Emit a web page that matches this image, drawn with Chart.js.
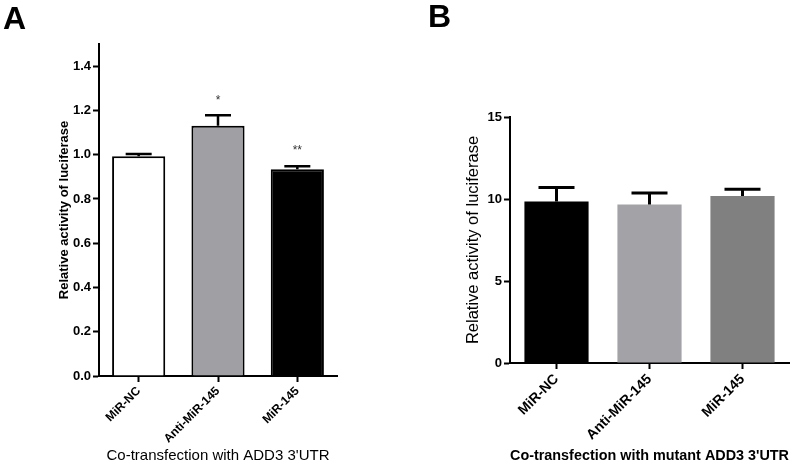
<!DOCTYPE html>
<html>
<head>
<meta charset="utf-8">
<script src="https://cdn.jsdelivr.net/npm/chart.js@4"></script>
<style>
  body { margin: 0; background: #fff; }
  #wrap { position: relative; width: 800px; height: 465px; }
  .panel { position: absolute; top: 0; width: 400px; height: 465px; }
  .letter { position: absolute; font: bold 32px Arial, "Liberation Sans", sans-serif; color: #000; }
</style>
</head>
<body>
<div id="wrap">
  <div class="panel" style="left:0"><canvas id="chartA"></canvas></div>
  <div class="panel" style="left:400px"><canvas id="chartB"></canvas></div>
  <div class="letter" style="left:3px;top:0px">A</div>
  <div class="letter" style="left:428px;top:-2px">B</div>
</div>
<script>
const categories = ['MiR-NC', 'Anti-MiR-145', 'MiR-145'];

// panel A
const valuesA = [0.993, 1.131, 0.934];
const errorsA = [0.010, 0.047, 0.014];
const starsA = ['', '*', '**'];
const colorsA = ['#ffffff', '#a0a0a4', '#000000'];
const yTicksA = [0, 0.2, 0.4, 0.6, 0.8, 1.0, 1.2, 1.4];
const yTickLabelsA = ['0.0', '0.2', '0.4', '0.6', '0.8', '1.0', '1.2', '1.4'];

// panel B
const valuesB = [9.84, 9.66, 10.19];
const errorsB = [0.86, 0.71, 0.41];
const colorsB = ['#000000', '#a3a3a7', '#808080'];
const yTicksB = [0, 5, 10, 15];
const yTickLabelsB = ['0', '5', '10', '15'];

const FONT = 'Arial, "Liberation Sans", sans-serif';

// error bars (upper only) + significance stars
const errorBars = {
    id: 'errorBars',
    afterDatasetsDraw(chart, args, opts) {
        const ctx = chart.ctx;
        const y = chart.scales.y;
        const meta = chart.getDatasetMeta(0);
        ctx.save();
        ctx.strokeStyle = '#000';
        ctx.lineWidth = opts.lineWidth;
        meta.data.forEach((bar, i) => {
            const v = opts.values[i];
            const top = y.getPixelForValue(v + opts.errors[i]);
            const base = y.getPixelForValue(v);
            ctx.beginPath();
            ctx.moveTo(bar.x, base);
            ctx.lineTo(bar.x, top);
            ctx.moveTo(bar.x - opts.cap / 2, top);
            ctx.lineTo(bar.x + opts.cap / 2, top);
            ctx.stroke();
            if (opts.stars && opts.stars[i]) {
                ctx.fillStyle = '#333';
                ctx.font = '12px ' + FONT;
                ctx.textAlign = 'center';
                ctx.textBaseline = 'middle';
                ctx.fillText(opts.stars[i], bar.x, top - 15);
            }
        });
        ctx.restore();
    }
};

function makeChart(id, cfg) {
    return new Chart(document.getElementById(id), {
        type: 'bar',
        data: {
            labels: categories,
            datasets: [{
                data: cfg.values,
                backgroundColor: cfg.colors,
                borderColor: cfg.border,
                borderWidth: cfg.borderWidth,
                categoryPercentage: 1,
                barPercentage: cfg.barPct
            }]
        },
        options: {
            responsive: true,
            maintainAspectRatio: false,
            animation: false,
            layout: { padding: cfg.padding },
            plugins: {
                legend: { display: false },
                tooltip: { enabled: false },
                errorBars: { values: cfg.values, errors: cfg.errors, stars: cfg.stars, cap: cfg.cap, lineWidth: cfg.errWidth }
            },
            scales: {
                x: {
                    grid: { offset: false, drawOnChartArea: false, drawTicks: true, tickLength: 6, tickWidth: 2, tickColor: '#000' },
                    border: { color: '#000', width: 2 },
                    ticks: { color: '#000', font: { family: FONT, size: cfg.xFont, weight: 'bold' }, minRotation: 45, maxRotation: 45, padding: 2 },
                    title: { display: true, text: cfg.xTitle, color: '#000', font: { family: FONT, size: 15, weight: cfg.xTitleWeight }, padding: { top: 0, bottom: 0 } },
                    afterFit: s => { s.height = cfg.xHeight; }
                },
                y: {
                    min: 0,
                    max: cfg.max,
                    grid: { drawOnChartArea: false, drawTicks: true, tickLength: 6, tickWidth: 2, tickColor: '#000' },
                    border: { color: '#000', width: 2 },
                    afterBuildTicks: s => { s.ticks = cfg.ticks.map(v => ({ value: v })); },
                    ticks: {
                        color: '#000',
                        font: { family: FONT, size: cfg.yFont, weight: 'bold' },
                        padding: 2,
                        callback: (v, i) => cfg.tickLabels[i]
                    },
                    title: { display: true, text: 'Relative activity of luciferase', color: '#000', font: { family: FONT, size: cfg.yTitleSize, weight: cfg.yTitleWeight }, padding: { top: cfg.yTitlePad, bottom: 0 } },
                    afterFit: s => { s.width = cfg.yWidth; }
                }
            }
        },
        plugins: [errorBars]
    });
}

makeChart('chartA', {
    values: valuesA, errors: errorsA, stars: starsA, colors: colorsA,
    border: '#000', borderWidth: 2, barPct: 0.67, cap: 26, errWidth: 2.5,
    padding: { top: 44, right: 63, bottom: 0, left: 0 },
    max: 1.5, ticks: yTicksA, tickLabels: yTickLabelsA,
    xFont: 12, yFont: 13, xTitle: 'Co-transfection with ADD3 3\'UTR', xTitleWeight: 'normal',
    xHeight: 89, yWidth: 99, yTitleSize: 13, yTitleWeight: 'bold', yTitlePad: 57
});

makeChart('chartB', {
    values: valuesB, errors: errorsB, stars: null, colors: colorsB,
    border: colorsB, borderWidth: 0, barPct: 0.69, cap: 36, errWidth: 3,
    padding: { top: 117, right: 11, bottom: 0, left: 0 },
    max: 15, ticks: yTicksB, tickLabels: yTickLabelsB,
    xFont: 14, yFont: 13, xTitle: 'Co-transfection with mutant ADD3 3\'UTR', xTitleWeight: 'bold',
    xHeight: 102, yWidth: 110, yTitleSize: 16.5, yTitleWeight: 'normal', yTitlePad: 64
});
</script>
</body>
</html>
